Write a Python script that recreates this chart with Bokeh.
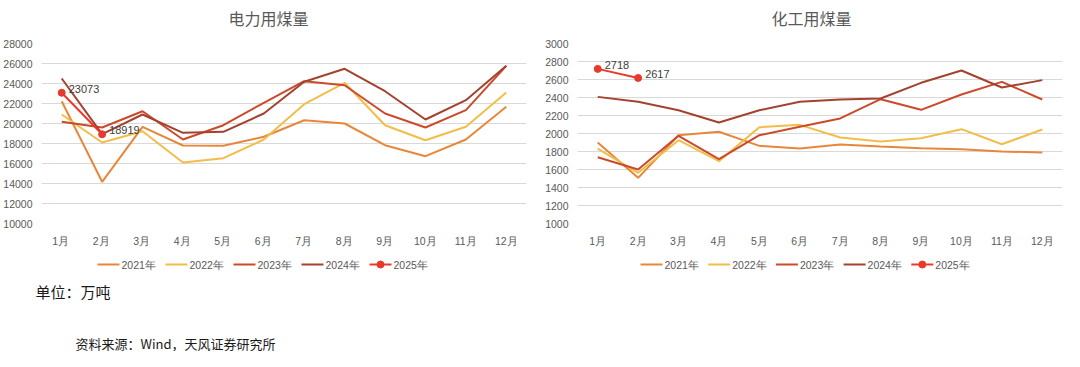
from bokeh.plotting import figure
from bokeh.models import Range1d, FactorRange, LabelSet, FixedTicker, ColumnDataSource
from bokeh.layouts import column, row
from bokeh.embed import file_html
from bokeh.resources import INLINE
from bokeh.core.properties import value

months = ["1月", "2月", "3月", "4月", "5月", "6月", "7月", "8月", "9月", "10月", "11月", "12月"]
years = ["2021年", "2022年", "2023年", "2024年", "2025年"]
colors = ["#E8873A", "#F2BD48", "#CB4A2C", "#A3422E", "#E8392B"]

# 电力用煤量 (万吨)
power_2021 = [22230, 14170, 19670, 17800, 17770, 18670, 20330, 20000, 17830, 16730, 18400, 21670]
power_2022 = [20900, 18100, 19230, 16100, 16530, 18400, 21930, 24070, 19830, 18330, 19670, 23100]
power_2023 = [20170, 19600, 21230, 18400, 19830, 22070, 24230, 23830, 21000, 19600, 21330, 25770]
power_2024 = [24500, 18930, 20900, 19070, 19170, 21000, 24170, 25470, 23230, 20400, 22330, 25770]
power_2025 = [23073, 18919]

# 化工用煤量 (万吨)
chem_2021 = [1900, 1507, 1981, 2019, 1863, 1833, 1878, 1856, 1837, 1826, 1800, 1789]
chem_2022 = [1833, 1563, 1926, 1693, 2070, 2096, 1956, 1911, 1948, 2048, 1881, 2044]
chem_2023 = [1737, 1600, 1974, 1715, 1981, 2074, 2167, 2381, 2263, 2433, 2574, 2378]
chem_2024 = [2407, 2352, 2259, 2122, 2259, 2352, 2378, 2389, 2563, 2700, 2511, 2593]
chem_2025 = [2718, 2617]

power_ticks = list(range(10000, 28001, 2000))
chem_ticks = list(range(1000, 3001, 200))

TXT = "#595959"
CJK = "Noto Sans CJK SC"
LAT = "Liberation Sans"


def strip(width, height, x_range=None, left=0, right=0):
    f = figure(width=width, height=height,
               x_range=x_range if x_range is not None else Range1d(0, width),
               y_range=Range1d(0, height), toolbar_location=None, output_backend="svg",
               min_border=0, min_border_left=left, min_border_right=right,
               x_axis_location=None, y_axis_location=None)
    f.outline_line_color = None
    f.grid.visible = False
    return f


def make_chart(series, last, ticks, width, left, right):
    xr = FactorRange(factors=months, range_padding=0)
    p = figure(width=width, height=195, x_range=xr,
               y_range=Range1d(ticks[0], ticks[-1]), toolbar_location=None,
               output_backend="svg", min_border_left=left, min_border_right=right,
               min_border_top=8, min_border_bottom=7, x_axis_location=None)
    p.outline_line_color = None
    for g in p.grid:
        if g.dimension == 0:
            g.visible = False
        else:
            g.grid_line_color = "#D9D9D9"
            g.grid_line_width = 1
    p.yaxis.ticker = FixedTicker(ticks=ticks)
    ax = p.yaxis[0]
    ax.axis_line_color = None
    ax.major_tick_line_color = None
    ax.minor_tick_line_color = None
    ax.major_tick_out = 0
    ax.major_tick_in = 0
    ax.minor_tick_out = 0
    ax.major_label_text_font = LAT
    ax.major_label_text_font_size = "10.5px"
    ax.major_label_text_color = TXT
    ax.major_label_standoff = 9

    for vals, col in zip(series, colors[:4]):
        p.line(x=months, y=vals, line_color=col, line_width=2)
    xs = months[:len(last)]
    p.line(x=xs, y=last, line_color=colors[4], line_width=2)
    p.scatter(x=xs, y=last, size=7, fill_color=colors[4], line_color=colors[4])
    lab_src = ColumnDataSource(dict(x=xs, y=last, t=[str(v) for v in last]))
    p.add_layout(LabelSet(x="x", y="y", text="t", source=lab_src, x_offset=7, y_offset=0,
                          text_baseline="alphabetic", text_font=value(LAT),
                          text_font_size="11px", text_color="#404040"))

    # month tick labels, sharing the chart's categorical x range
    m = strip(width, 20, x_range=xr, left=left, right=right)
    m.text(x=months, y=[10] * len(months), text=months, text_align="center",
           text_baseline="alphabetic", text_font=value(LAT), text_font_size="10.5px",
           text_color=TXT)
    return p, m


def legend_strip(width, start, pitch):
    f = strip(width, 26)
    x0 = [start + i * pitch for i in range(len(years))]
    x1 = [v + 22 for v in x0]
    f.segment(x0=x0, y0=[12] * 5, x1=x1, y1=[12] * 5, line_color=colors, line_width=2)
    f.scatter(x=[x0[4] + 11], y=[12], size=7, fill_color=colors[4], line_color=colors[4])
    f.text(x=[v + 2 for v in x1], y=[12] * 5, text=years, text_baseline="alphabetic",
           text_font=value(LAT), text_font_size="10.5px", text_color=TXT)
    return f


header = strip(1064, 35)
header.text(x=[228, 771], y=[18, 18], text=["电力用煤量", "化工用煤量"],
            text_baseline="alphabetic", text_font=value(CJK), text_font_size="16px",
            text_color=TXT)

left, left_m = make_chart([power_2021, power_2022, power_2023, power_2024],
                          power_2025, power_ticks, 540, 40, 14)
right, right_m = make_chart([chem_2021, chem_2022, chem_2023, chem_2024],
                            chem_2025, chem_ticks, 524, 37, 2)

leg_left = legend_strip(540, 97, 68)
leg_right = legend_strip(524, 100, 67.7)

foot = strip(1064, 75)
foot.text(x=[35], y=[60], text=["单位：万吨"], text_baseline="alphabetic",
          text_font=value(CJK), text_font_size="15px", text_color="#1a1a1a")
foot.text(x=[75], y=[8], text=["资料来源：Wind，天风证券研究所"], text_baseline="alphabetic",
          text_font=value(CJK), text_font_size="13px", text_color="#1a1a1a")

layout = column(header, row(left, right), row(left_m, right_m), row(leg_left, leg_right), foot)
open("out.html", "w").write(file_html(layout, INLINE))
